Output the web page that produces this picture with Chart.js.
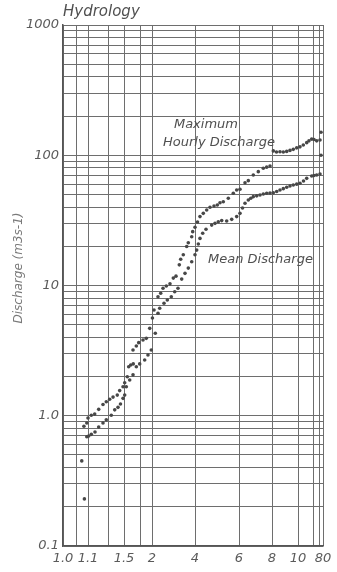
<!DOCTYPE html>
<html>
<head>
<meta charset="utf-8">
<title>Hydrology</title>
<script src="https://cdn.jsdelivr.net/npm/chart.js@4/dist/chart.umd.min.js"></script>
<style>
  html, body { margin: 0; padding: 0; background: #fff; }
  #wrap { width: 337px; height: 572px; }
</style>
</head>
<body>
<div id="wrap"><canvas id="chart"></canvas></div>
<script>
// return period (x) and discharge (y)
var maxPeriod = [1.074, 1.083, 1.095, 1.10, 1.133, 1.167, 1.207, 1.25, 1.283, 1.321, 1.363, 1.416, 1.446, 1.488,
    1.513, 1.562, 1.588, 1.626, 1.674, 1.669, 1.731, 1.776, 1.85, 1.905, 1.962, 2.02, 2.093, 2.279, 2.405, 2.512,
    2.665, 2.837, 2.991, 3.116, 3.27, 3.335, 3.456, 3.614, 3.688, 3.847, 3.893, 4.0, 4.114, 4.227, 4.377, 4.532,
    4.682, 4.864, 5.014, 5.136, 5.286, 5.514, 5.741, 5.895, 6.061, 6.364, 6.564, 6.867, 7.17, 7.473, 7.677, 7.879,
    8.1, 8.346, 8.615, 8.869, 9.13, 9.384, 9.638, 9.9, 11.33, 13.53, 15.8, 17.33, 19.13, 23.3, 32.3, 50, 60];
var maxDischarge = [0.45, 0.83, 0.88, 0.96, 1.01, 1.03, 1.12, 1.22, 1.28, 1.34, 1.39, 1.44, 1.56, 1.67,
    1.79, 1.99, 2.38, 2.45, 2.50, 3.20, 3.43, 3.64, 3.82, 3.93, 4.69, 5.63, 6.49, 8.20, 8.71, 9.52,
    9.91, 10.3, 11.4, 11.8, 14.4, 15.9, 17.2, 19.9, 21.3, 23.7, 25.9, 28.0, 30.7, 33.8, 35.8, 38.0,
    39.9, 40.8, 41.5, 43.2, 44.0, 46.7, 51.1, 54.1, 54.8, 61.5, 63.8, 70.5, 74.8, 79.4, 81.0, 82.7,
    108, 106, 106.5, 106, 107, 109, 111, 114, 116, 120, 125, 129, 133, 132, 129, 131, 150];

var meanPeriod = [1.085, 1.095, 1.107, 1.133, 1.17, 1.207, 1.25, 1.283, 1.341, 1.384, 1.425, 1.456, 1.488, 1.513,
    1.543, 1.607, 1.669, 1.731, 1.794, 1.878, 1.933, 1.988, 2.153, 2.279, 2.358, 2.558, 2.712, 2.898, 3.056, 3.209,
    3.381, 3.535, 3.688, 3.847, 4.0, 4.077, 4.15, 4.227, 4.35, 4.5, 4.759, 4.909, 5.059, 5.214, 5.441, 5.668,
    5.895, 6.061, 6.212, 6.364, 6.564, 6.715, 6.867, 7.073, 7.273, 7.473, 7.679, 7.879, 8.1, 8.361, 8.615, 8.869,
    9.13, 9.384, 9.638, 9.9, 11.33, 13.67, 15.8, 19.13, 23.3, 32.3, 50, 60];
var meanDischarge = [0.23, 0.69, 0.70, 0.72, 0.75, 0.82, 0.88, 0.93, 1.01, 1.11, 1.16, 1.23, 1.36, 1.44,
    1.67, 1.88, 2.06, 2.38, 2.50, 2.68, 2.93, 3.20, 4.30, 6.12, 6.68, 7.30, 7.74, 8.20, 8.96, 9.52,
    11.2, 12.4, 13.6, 15.2, 17.2, 18.7, 20.8, 23.0, 25.2, 27.0, 29.1, 30.0, 30.9, 31.5, 31.3, 32.2,
    33.8, 35.8, 39.4, 42.8, 45.3, 46.7, 48.1, 48.8, 49.5, 50.4, 51.1, 51.3, 51.6, 52.7, 54.1, 55.4,
    56.8, 58.1, 59.1, 60.0, 60.9, 63.4, 66.5, 69.3, 69.9, 70.5, 71.8, 100];

// ruling of the probability paper along the bottom (spacing in paper units)
var periodGrid = [1.0, 1.05, 1.1, 1.3, 1.5, 1.8, 2, 4, 6, 8, 10, 20, 40, 80];
var periodLabels = ['1.0', '', '1.1', '', '1.5', '', '2', '4', '6', '8', '10', '', '', '80'];
var periodSpacing = [0, 13, 25, 45, 61, 77, 89, 132, 176, 209, 235, 250, 256, 260];

var dischargeLabelValues = [0.1, 1, 10, 100, 1000];
var dischargeLabels = ['0.1', '1.0', '10', '100', '1000'];

var notes = [
    { text: 'Maximum', period: 3.02, discharge: 171 },
    { text: 'Hourly Discharge', period: 2.51, discharge: 124 },
    { text: 'Mean Discharge', period: 4.59, discharge: 15.7 }
];

function periodFraction(v) {
    var span = periodSpacing[periodSpacing.length - 1];
    if (v <= periodGrid[0]) return 0;
    for (var i = 1; i < periodGrid.length; i++) {
        if (v <= periodGrid[i]) {
            var t = (v - periodGrid[i - 1]) / (periodGrid[i] - periodGrid[i - 1]);
            return (periodSpacing[i - 1] + t * (periodSpacing[i] - periodSpacing[i - 1])) / span;
        }
    }
    return 1;
}

// custom x scale for the return period paper
class PeriodScale extends Chart.Scale {
    determineDataLimits() {
        this.min = periodGrid[0];
        this.max = periodGrid[periodGrid.length - 1];
    }
    buildTicks() {
        return periodGrid.map(function(v) { return { value: v }; });
    }
    getLabelForValue(value) {
        return String(value);
    }
    getPixelForValue(value) {
        return this.getPixelForDecimal(periodFraction(value));
    }
    getValueForPixel(pixel) {
        var f = this.getDecimalForPixel(pixel) * periodSpacing[periodSpacing.length - 1];
        for (var i = 1; i < periodSpacing.length; i++) {
            if (f <= periodSpacing[i]) {
                var t = (f - periodSpacing[i - 1]) / (periodSpacing[i] - periodSpacing[i - 1]);
                return periodGrid[i - 1] + t * (periodGrid[i] - periodGrid[i - 1]);
            }
        }
        return this.max;
    }
}
PeriodScale.id = 'period';
PeriodScale.defaults = {};
Chart.register(PeriodScale);

function toPoints(xs, ys) {
    return xs.map(function(x, i) { return { x: x, y: ys[i] }; });
}

var textPlugin = {
    id: 'textPlugin',
    afterDraw: function(chart) {
        var ctx = chart.ctx;
        var x = chart.scales.x, y = chart.scales.y;
        ctx.save();
        ctx.fillStyle = '#505050';
        ctx.font = 'italic 15px "DejaVu Sans"';
        ctx.textAlign = 'left';
        ctx.textBaseline = 'middle';
        ctx.fillText('Hydrology', chart.chartArea.left, 12);

        ctx.font = 'italic 13px "DejaVu Sans"';
        notes.forEach(function(n) {
            ctx.fillText(n.text, x.getPixelForValue(n.period), y.getPixelForValue(n.discharge));
        });

        // y axis title
        ctx.fillStyle = '#7a7a7a';
        ctx.font = 'italic 12px "DejaVu Sans"';
        ctx.translate(19, 268);
        ctx.rotate(-Math.PI / 2);
        ctx.textAlign = 'center';
        ctx.fillText('Discharge (m3s-1)', 0, 0);
        ctx.restore();
    }
};

var gridColor = '#6e6e6e';
var ctx = document.getElementById('chart').getContext('2d');
var myChart = new Chart(ctx, {
    type: 'scatter',
    data: {
        datasets: [{
            label: 'Maximum Hourly Discharge',
            data: toPoints(maxPeriod, maxDischarge),
            backgroundColor: '#474747',
            borderWidth: 0,
            pointRadius: 1.8
        }, {
            label: 'Mean Discharge',
            data: toPoints(meanPeriod, meanDischarge),
            backgroundColor: '#474747',
            borderWidth: 0,
            pointRadius: 1.8
        }]
    },
    options: {
        responsive: true,
        maintainAspectRatio: false,
        animation: false,
        layout: { padding: { top: 25, right: 14, left: 0, bottom: 0 } },
        plugins: {
            legend: { display: false },
            tooltip: { enabled: false }
        },
        scales: {
            x: {
                type: 'period',
                grid: { color: gridColor, lineWidth: 1, drawTicks: false },
                border: { color: '#555', width: 1.5 },
                ticks: {
                    autoSkip: false,
                    maxRotation: 0,
                    padding: 5,
                    color: '#5a5a5a',
                    font: { family: 'DejaVu Sans', size: 13, style: 'italic' },
                    callback: function(value, index) { return periodLabels[index]; }
                },
                afterFit: function(scale) { scale.height = 26; }
            },
            y: {
                type: 'logarithmic',
                min: 0.1,
                max: 1000,
                grid: { color: gridColor, lineWidth: 1, drawTicks: false },
                border: { color: '#555', width: 1.5 },
                ticks: {
                    autoSkip: false,
                    padding: 4,
                    color: '#5a5a5a',
                    font: { family: 'DejaVu Sans', size: 13, style: 'italic' },
                    callback: function(value) {
                        for (var i = 0; i < dischargeLabelValues.length; i++) {
                            if (Math.abs(value / dischargeLabelValues[i] - 1) < 1e-6) return dischargeLabels[i];
                        }
                        return '';
                    }
                },
                afterBuildTicks: function(scale) {
                    var ticks = [];
                    for (var e = -1; e < 3; e++) {
                        for (var m = 1; m < 10; m++) {
                            ticks.push({ value: m * Math.pow(10, e) });
                        }
                    }
                    ticks.push({ value: 1000 });
                    scale.ticks = ticks;
                },
                afterFit: function(scale) { scale.width = 63; }
            }
        }
    },
    plugins: [textPlugin]
});
</script>
</body>
</html>
